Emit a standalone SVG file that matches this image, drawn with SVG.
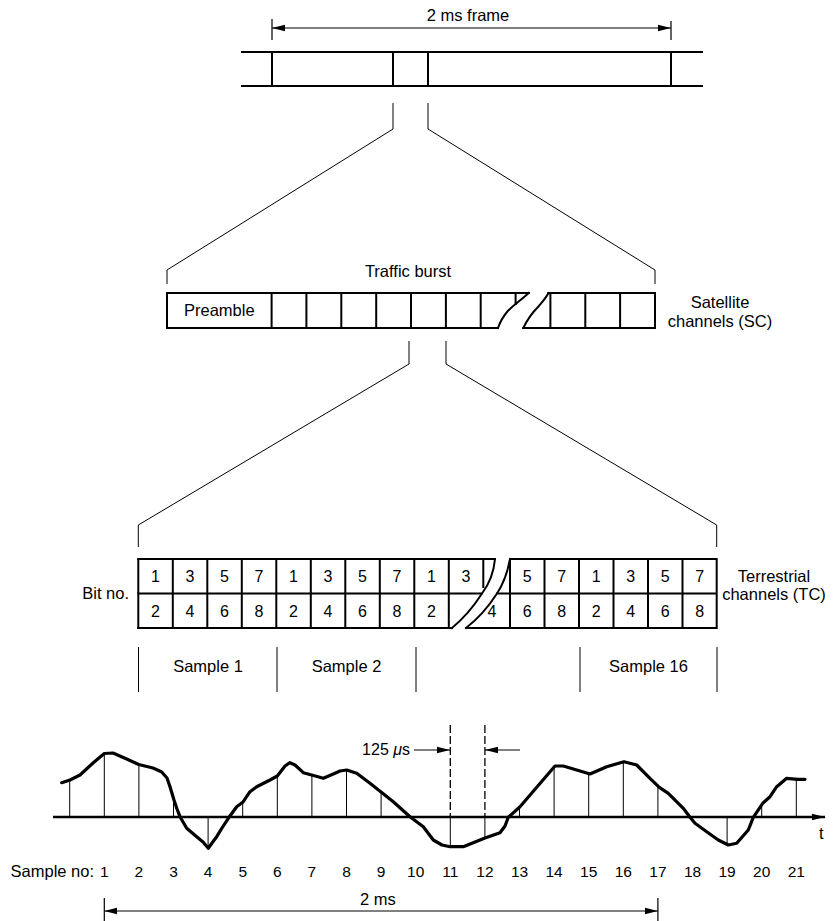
<svg xmlns="http://www.w3.org/2000/svg" width="834" height="921" viewBox="0 0 834 921">
<style>
text{font-family:"Liberation Sans",Arial,Helvetica,sans-serif;fill:#000;font-size:16.5px}
.c{text-anchor:middle}
.e{text-anchor:end}
.d{font-size:16px;text-anchor:middle}
.n{font-size:15.5px;text-anchor:middle}
.thick{stroke:#000;stroke-width:2;fill:none;stroke-linecap:square}
.thin{stroke:#000;stroke-width:1;fill:none}
.wave{stroke:#000;stroke-width:3.2;fill:none;stroke-linejoin:round;stroke-linecap:round}
.dash{stroke:#000;stroke-width:1.3;fill:none;stroke-dasharray:8 3}
.dim{stroke:#000;stroke-width:1.2;fill:none}
</style>
<defs>
<marker id="ah" markerUnits="userSpaceOnUse" markerWidth="14" markerHeight="8" refX="13" refY="4" orient="auto-start-reverse">
<path d="M0,0.8 L13,4 L0,7.2 z" fill="#000"/>
</marker>
</defs>

<g id="frame">
<path class="dim" d="M272,19 V40 M671,21 V40"/>
<line class="dim" x1="272" y1="28" x2="671" y2="28" marker-start="url(#ah)" marker-end="url(#ah)"/>
<text class="c" x="468" y="21">2 ms frame</text>
<path class="thick" d="M242,52 H702 M242,86 H702 M272,52 V86 M393,52 V86 M428,52 V86 M671,52 V86"/>
</g>

<g id="connectors">
<path class="thin" d="M393,103 V129 L167,270 V284 M428,103 V129 L655,270 V284"/>
<path class="thin" d="M409,341 V364 L138.3,525 V547 M446,341 V364 L716.7,525 V547"/>
</g>

<g id="burst">
<text class="c" x="408" y="277">Traffic burst</text>
<path class="thick" d="M167,293 H528.7 M167,328 H498 M167,293 V328 M271.6,293 V328 M306.4,293 V328 M341.3,293 V328 M376.2,293 V328 M411,293 V328 M445.9,293 V328 M480.7,293 V328 M515.6,293 V304"/>
<path class="thick" d="M528.7,293 C520,301 512,306 507,312 C502,318 500,322 498,328"/>
<path class="thick" d="M523.3,328 C528,318 532,313 538,307 C543,301 546,298 548.4,293"/>
<path class="thick" d="M548.4,293 H655 M523.3,328 H655 M550.4,293 V328 M585.3,293 V328 M620.1,293 V328 M655,293 V328"/>
<text class="c" x="219.3" y="316">Preamble</text>
</g>

<g id="sc-label">
<text class="c" x="720" y="308">Satellite</text>
<text class="c" x="720" y="327">channels (SC)</text>
</g>

<g id="table">
<text class="e" x="129" y="599">Bit no.</text>
<path class="thick" d="M138.3,559 H495 M138.3,593.5 H481.5 M138.3,628 H452"/>
<path class="thick" d="M138.3,559 V628 M172.8,559 V628 M207.3,559 V628 M241.8,559 V628 M276.3,559 V628 M310.8,559 V628 M345.3,559 V628 M379.8,559 V628 M414.3,559 V628 M448.8,559 V628 M483.3,559 V587"/>
<path class="thick" d="M495,559 C494,570 490,583 482,593.5 C474,606 464,618 452,628"/>
<path class="thick" d="M510,559 C508,570 504,583 497,593.5 C489,606 479,618 466,628"/>
<path class="thick" d="M510,559 H716.7 M497,593.5 H716.7 M466,628 H716.7 M510,559 V628 M544.5,559 V628 M579,559 V628 M613.5,559 V628 M648,559 V628 M682.5,559 V628 M716.7,559 V628"/>
<g class="digits">
<text class="d" x="155.5" y="582">1</text><text class="d" x="190" y="582">3</text><text class="d" x="224.5" y="582">5</text><text class="d" x="259" y="582">7</text>
<text class="d" x="293.5" y="582">1</text><text class="d" x="328" y="582">3</text><text class="d" x="362.5" y="582">5</text><text class="d" x="397" y="582">7</text>
<text class="d" x="431.5" y="582">1</text><text class="d" x="466" y="582">3</text>
<text class="d" x="527.2" y="582">5</text><text class="d" x="561.7" y="582">7</text><text class="d" x="596.2" y="582">1</text><text class="d" x="630.7" y="582">3</text><text class="d" x="665.2" y="582">5</text><text class="d" x="699.7" y="582">7</text>
<text class="d" x="155.5" y="617">2</text><text class="d" x="190" y="617">4</text><text class="d" x="224.5" y="617">6</text><text class="d" x="259" y="617">8</text>
<text class="d" x="293.5" y="617">2</text><text class="d" x="328" y="617">4</text><text class="d" x="362.5" y="617">6</text><text class="d" x="397" y="617">8</text>
<text class="d" x="431.5" y="617">2</text><text class="d" x="492" y="617">4</text>
<text class="d" x="527.2" y="617">6</text><text class="d" x="561.7" y="617">8</text><text class="d" x="596.2" y="617">2</text><text class="d" x="630.7" y="617">4</text><text class="d" x="665.2" y="617">6</text><text class="d" x="699.7" y="617">8</text>
</g>
</g>

<g id="tc-label">
<text class="c" x="774" y="582">Terrestrial</text>
<text class="c" x="774" y="600">channels (TC)</text>
</g>

<g id="samples">
<path class="thin" d="M138.5,647 V692 M277,647 V692 M416,647 V692 M580,647 V692 M717,647 V692"/>
<text class="c" x="208" y="672">Sample 1</text>
<text class="c" x="346.5" y="672">Sample 2</text>
<text class="c" x="648.5" y="672">Sample 16</text>
</g>

<g id="waveform">
<g class="thin">
<path d="M69.7,817 V780 M104.3,817 V753.5 M138.9,817 V764.5 M173.5,817 V800 M208.1,817 V848 M242.7,817 V802 M277.3,817 V776 M311.9,817 V775 M346.5,817 V770 M381.1,817 V791.7"/>
<path d="M450.3,817 V847 M484.9,817 V837 M519.5,817 V807 M554.1,817 V766 M588.7,817 V774 M623.3,817 V762 M657.9,817 V787 M727.1,817 V845 M761.7,817 V804 M796.3,817 V779"/>
</g>
<path class="dash" d="M450.3,725 V817 M484.9,725 V817"/>
<line x1="53" y1="817" x2="825" y2="817" stroke="#000" stroke-width="2.5" marker-end="url(#ah)"/>
<text x="819" y="839">t</text>
<polyline class="wave" points="61.7,782.7 70,780 80,775 93,763 104.3,753.5 113,753 126.7,759 138.7,764.5 153,768 161.7,772 167,778 170,786.7 174,800 177,809 180,816.7 186.7,828.3 196.7,836.7 203,842 208.3,848.3 212,843 216.7,836.7 222,828 228.3,818.3 236.7,806.7 243.3,801.7 247,796 250,791.7 256.7,786.7 270,780 277.3,776 285,766 290,762.7 295,765 303.3,772.7 311.7,775 323.3,778.3 333.3,774 340,771 346.7,770 356.7,773.3 370,783.3 380.7,791.7 393.3,801.7 410,816.7 423.3,826.7 433.3,840 442,845 450,846.7 463.3,846.7 485,838 500,832.7 505,826 508.3,817.3 520,806.7 555,766 563.3,766 576.7,770 590,774 606.7,766.7 624,761.7 636.7,765 650,778.3 659.3,787.3 668.3,793.3 683.3,808.3 690,817.3 695,823.3 706.7,831.7 718.3,840 728.3,845 736.7,843.3 748.3,830 753.3,817.3 762.7,803.3 770,796.7 776.7,786.7 786.7,778.3 797.7,779.3 805,779.3"/>
<text class="e" x="410" y="755" style="font-size:16px">125 <tspan font-style="italic">μ</tspan>s</text>
<line class="dim" x1="414" y1="750" x2="450" y2="750" marker-end="url(#ah)"/>
<line class="dim" x1="520" y1="750" x2="485" y2="750" marker-end="url(#ah)"/>
</g>

<g id="sample-numbers">
<text class="e" x="94" y="877">Sample no:</text>
<text class="n" x="104.3" y="877">1</text><text class="n" x="138.9" y="877">2</text><text class="n" x="173.5" y="877">3</text><text class="n" x="208.1" y="877">4</text><text class="n" x="242.7" y="877">5</text><text class="n" x="277.3" y="877">6</text><text class="n" x="311.9" y="877">7</text>
<text class="n" x="346.5" y="877">8</text><text class="n" x="381.1" y="877">9</text><text class="n" x="415.7" y="877">10</text><text class="n" x="450.3" y="877">11</text><text class="n" x="484.9" y="877">12</text><text class="n" x="519.5" y="877">13</text><text class="n" x="554.1" y="877">14</text>
<text class="n" x="588.7" y="877">15</text><text class="n" x="623.3" y="877">16</text><text class="n" x="657.9" y="877">17</text><text class="n" x="692.5" y="877">18</text><text class="n" x="727.1" y="877">19</text><text class="n" x="761.7" y="877">20</text><text class="n" x="796.3" y="877">21</text>
</g>

<g id="period">
<path class="dim" d="M104.3,898 V921 M657.9,898 V921"/>
<line class="dim" x1="104.3" y1="911" x2="657.9" y2="911" marker-start="url(#ah)" marker-end="url(#ah)"/>
<text class="c" x="378" y="905">2 ms</text>
</g>
</svg>
